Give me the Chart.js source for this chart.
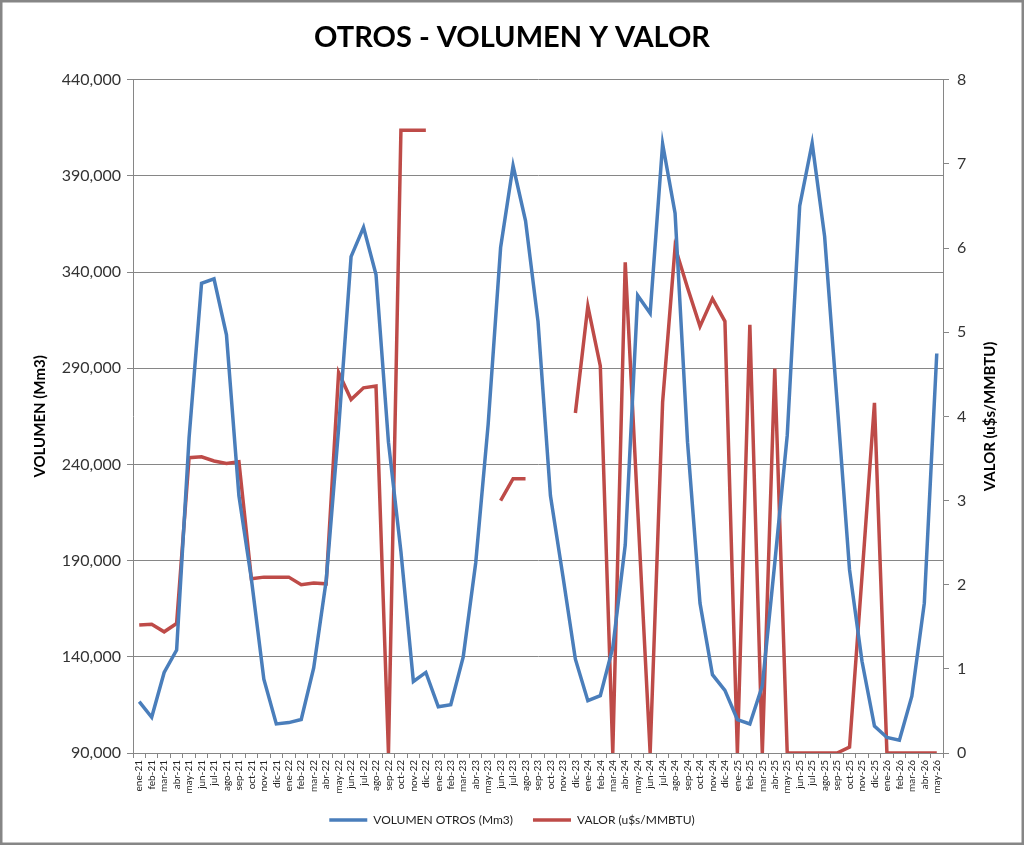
<!DOCTYPE html>
<html>
<head>
<meta charset="utf-8">
<script src="https://cdn.jsdelivr.net/npm/chart.js@4.4.1/dist/chart.umd.min.js"></script>
<style>
  html, body { margin: 0; padding: 0; background: #fff; }
  #wrap { width: 1024px; height: 845px; position: relative; }
</style>
</head>
<body>
<div id="wrap"><canvas id="grafico"></canvas></div>
<script>
const meses = ['ene-21','feb-21','mar-21','abr-21','may-21','jun-21','jul-21','ago-21','sep-21','oct-21','nov-21','dic-21',
  'ene-22','feb-22','mar-22','abr-22','may-22','jun-22','jul-22','ago-22','sep-22','oct-22','nov-22','dic-22',
  'ene-23','feb-23','mar-23','abr-23','may-23','jun-23','jul-23','ago-23','sep-23','oct-23','nov-23','dic-23',
  'ene-24','feb-24','mar-24','abr-24','may-24','jun-24','jul-24','ago-24','sep-24','oct-24','nov-24','dic-24',
  'ene-25','feb-25','mar-25','abr-25','may-25','jun-25','jul-25','ago-25','sep-25','oct-25','nov-25','dic-25',
  'ene-26','feb-26','mar-26','abr-26','may-26'];

// volumen en Mm3
const volumen = [116700,108600,131900,143500,253800,334200,336500,307400,223700,180500,128400,105100,
  105800,107400,134200,179500,258600,348100,363300,338800,251600,194700,127200,131900,
  114000,115100,140000,188800,260900,352800,395300,366700,314400,223700,181900,138800,
  117200,119800,144700,198100,327900,318600,406700,370700,251600,167900,130700,122600,
  107400,105100,124900,188800,255100,374400,407000,358600,272600,185300,137700,104000,
  98100,96700,119500,167900,297700];

// valor en u$s/MMBTU (null = sin dato)
const valor = [1.52,1.53,1.44,1.54,3.51,3.52,3.47,3.44,3.46,2.07,2.09,2.09,
  2.09,2.00,2.02,2.01,4.52,4.20,4.34,4.36,0,7.40,7.40,7.40,
  null,null,null,null,null,3.00,3.26,3.26,null,null,null,4.04,
  5.31,4.60,0,5.83,2.90,0,4.17,6.01,5.53,5.07,5.40,5.13,
  0,5.09,0,4.57,0,0,0,0,0,0.07,2.10,4.16,
  0,0,0,0,0];

const volTicks = { min: 90000, max: 440000, step: 50000 };
const valTicks = { min: 0, max: 8, step: 1 };

const gris = '#868686';
const fuente = 'Lato, "Open Sans", sans-serif';

const extras = {
  id: 'extras',
  afterDraw(chart) {
    const ctx = chart.ctx;
    const area = chart.chartArea;
    ctx.save();
    // titulo del eje derecho, leido de abajo hacia arriba
    ctx.translate(990, (area.top + area.bottom) / 2);
    ctx.rotate(-Math.PI / 2);
    ctx.font = 'bold 15px ' + fuente;
    ctx.fillStyle = '#000';
    ctx.textAlign = 'center';
    ctx.textBaseline = 'middle';
    ctx.fillText('VALOR (u$s/MMBTU)', 0, 0);
    ctx.restore();
    // marco exterior
    ctx.save();
    ctx.strokeStyle = gris;
    ctx.lineWidth = 2.5;
    ctx.strokeRect(1.25, 1.25, chart.width - 2.5, chart.height - 2.5);
    ctx.restore();
  }
};

new Chart(document.getElementById('grafico'), {
  type: 'line',
  data: {
    labels: meses,
    datasets: [{
      label: 'VOLUMEN OTROS (Mm3)',
      data: volumen,
      yAxisID: 'yVol',
      borderColor: '#4A7EBB',
      backgroundColor: '#4A7EBB',
      borderWidth: 3.5,
      pointRadius: 0,
      tension: 0,
      fill: false
    }, {
      label: 'VALOR (u$s/MMBTU)',
      data: valor,
      yAxisID: 'yVal',
      borderColor: '#BE4B48',
      backgroundColor: '#BE4B48',
      borderWidth: 3.5,
      pointRadius: 0,
      tension: 0,
      spanGaps: false,
      fill: false
    }]
  },
  options: {
    responsive: true,
    maintainAspectRatio: false,
    animation: false,
    layout: { padding: { left: 0, right: 0, top: 0, bottom: 9 } },
    plugins: {
      title: {
        display: true,
        text: 'OTROS - VOLUMEN Y VALOR',
        color: '#000',
        font: { family: fuente, size: 29, weight: 'bold' },
        padding: { top: 20, bottom: 25 }
      },
      legend: {
        position: 'bottom',
        labels: {
          usePointStyle: true,
          pointStyle: 'line',
          pointStyleWidth: 38,
          color: '#222',
          font: { family: fuente, size: 12 },
          padding: 20
        }
      },
      tooltip: { enabled: false }
    },
    scales: {
      x: {
        offset: true,
        grid: { display: true, drawOnChartArea: false, offset: true, tickLength: 5, color: gris },
        border: { color: gris },
        ticks: {
          autoSkip: false, maxRotation: 90, minRotation: 90,
          color: '#222', font: { family: fuente, size: 10 }, padding: 2
        },
        afterFit(s) { s.height = 41; }
      },
      yVol: {
        position: 'left',
        min: volTicks.min,
        max: volTicks.max,
        ticks: {
          stepSize: volTicks.step,
          color: '#333',
          font: { family: fuente, size: 16 },
          padding: 6,
          callback: v => v.toLocaleString('en-US')
        },
        grid: { color: gris, tickLength: 6 },
        border: { color: gris },
        title: {
          display: true,
          text: 'VOLUMEN (Mm3)',
          color: '#000',
          font: { family: fuente, size: 15, weight: 'bold' },
          padding: { top: 31, bottom: 0 }
        },
        afterFit(s) { s.width = 133; }
      },
      yVal: {
        position: 'right',
        min: valTicks.min,
        max: valTicks.max,
        ticks: {
          stepSize: valTicks.step,
          color: '#333',
          font: { family: fuente, size: 16 },
          padding: 8
        },
        grid: { drawOnChartArea: false, color: gris, tickLength: 6 },
        border: { color: gris },
        afterFit(s) { s.width = 81; }
      }
    }
  },
  plugins: [extras]
});
</script>
</body>
</html>
